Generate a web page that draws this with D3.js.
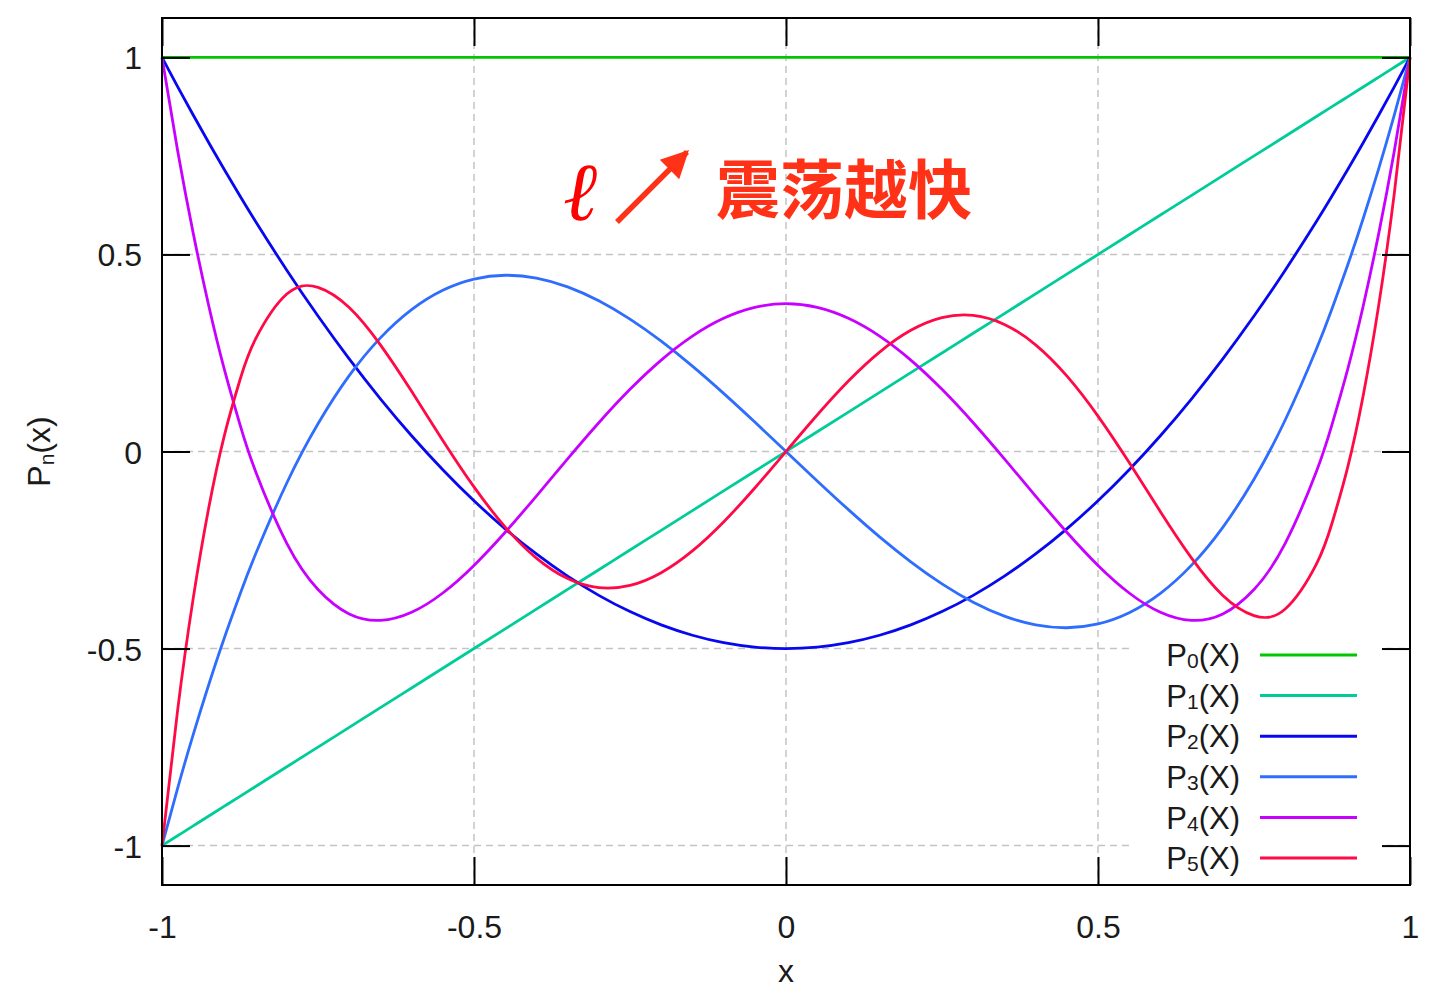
<!DOCTYPE html>
<html>
<head>
<meta charset="utf-8">
<script src="https://cdn.jsdelivr.net/npm/d3@7"></script>
<style>
  html, body { margin: 0; padding: 0; background: #fff; }
  svg { display: block; }
</style>
</head>
<body>
<svg id="chart" width="1434" height="993"></svg>
<script>
// Sample abscissae shared by the curves (finer near the steep ends)
const xs = [-1, -0.975, -0.95, -0.925, -0.9, -0.875, -0.85, -0.8, -0.75, -0.7, -0.65, -0.6, -0.55, -0.5,
  -0.45, -0.4, -0.35, -0.3, -0.25, -0.2, -0.15, -0.1, -0.05, 0,
  0.05, 0.1, 0.15, 0.2, 0.25, 0.3, 0.35, 0.4, 0.45, 0.5, 0.55, 0.6, 0.65, 0.7, 0.75, 0.8,
  0.85, 0.875, 0.9, 0.925, 0.95, 0.975, 1];

const p0 = [1, 1, 1, 1, 1, 1, 1, 1, 1, 1, 1, 1, 1, 1, 1, 1, 1, 1, 1, 1, 1, 1, 1, 1,
  1, 1, 1, 1, 1, 1, 1, 1, 1, 1, 1, 1, 1, 1, 1, 1, 1, 1, 1, 1, 1, 1, 1];

const p1 = [-1, -0.975, -0.95, -0.925, -0.9, -0.875, -0.85, -0.8, -0.75, -0.7, -0.65, -0.6, -0.55, -0.5,
  -0.45, -0.4, -0.35, -0.3, -0.25, -0.2, -0.15, -0.1, -0.05, 0,
  0.05, 0.1, 0.15, 0.2, 0.25, 0.3, 0.35, 0.4, 0.45, 0.5, 0.55, 0.6, 0.65, 0.7, 0.75, 0.8,
  0.85, 0.875, 0.9, 0.925, 0.95, 0.975, 1];

const p2 = [1, 0.92594, 0.85375, 0.78344, 0.715, 0.64844, 0.58375, 0.46, 0.34375, 0.235, 0.13375, 0.04, -0.04625, -0.125,
  -0.19625, -0.26, -0.31625, -0.365, -0.40625, -0.44, -0.46625, -0.485, -0.49625, -0.5,
  -0.49625, -0.485, -0.46625, -0.44, -0.40625, -0.365, -0.31625, -0.26, -0.19625, -0.125, -0.04625, 0.04, 0.13375, 0.235, 0.34375, 0.46,
  0.58375, 0.64844, 0.715, 0.78344, 0.85375, 0.92594, 1];

const p3 = [-1, -0.85465, -0.7184, -0.59113, -0.4725, -0.3623, -0.2603, -0.08, 0.0703, 0.1925, 0.2884, 0.36, 0.4091, 0.4375,
  0.4472, 0.44, 0.4178, 0.3825, 0.3359, 0.28, 0.2166, 0.1475, 0.0747, 0,
  -0.0747, -0.1475, -0.2166, -0.28, -0.3359, -0.3825, -0.4178, -0.44, -0.4472, -0.4375, -0.4091, -0.36, -0.2884, -0.1925, -0.0703, 0.08,
  0.2603, 0.3623, 0.4725, 0.59113, 0.7184, 0.85465, 1];

const p4 = [1, 0.76379, 0.55409, 0.36932, 0.20794, 0.06845, -0.0506, -0.233, -0.3501, -0.41206, -0.42841, -0.408, -0.35904, -0.28906,
  -0.20497, -0.113, -0.01872, 0.07294, 0.15771, 0.232, 0.29284, 0.33794, 0.36565, 0.375,
  0.36565, 0.33794, 0.29284, 0.232, 0.15771, 0.07294, -0.01872, -0.113, -0.20497, -0.28906, -0.35904, -0.408, -0.42841, -0.41206, -0.3501, -0.233,
  -0.0506, 0.06845, 0.20794, 0.36932, 0.55409, 0.76379, 1];

const p5 = [-1, -0.65674, -0.37274, -0.14201, 0.04114, 0.18203, 0.28567, 0.39952, 0.41638, 0.3652, 0.27049, 0.15264, 0.0282, -0.08984,
  -0.19172, -0.27064, -0.32245, -0.34539, -0.33972, -0.30752, -0.25232, -0.17883, -0.09266, 0,
  0.09266, 0.17883, 0.25232, 0.30752, 0.33972, 0.34539, 0.32245, 0.27064, 0.19172, 0.08984, -0.0282, -0.15264, -0.27049, -0.3652, -0.41638, -0.39952,
  -0.28567, -0.18203, -0.04114, 0.14201, 0.37274, 0.65674, 1];

const seriesNames = ["0", "1", "2", "3", "4", "5"];
const seriesValues = [p0, p1, p2, p3, p4, p5];
const seriesColors = ["#00c800", "#00cc99", "#0808f0", "#2f6dff", "#c800ff", "#ff0a46"];

const xTicks = [-1, -0.5, 0, 0.5, 1];
const yTicks = [-1, -0.5, 0, 0.5, 1];
const xTickLabels = ["-1", "-0.5", "0", "0.5", "1"];
const yTickLabels = ["-1", "-0.5", "0", "0.5", "1"];

const svg = d3.select("#chart");
const plotL = 162, plotR = 1410, plotT = 18, plotB = 885;
const font = "'Liberation Sans', Arial, sans-serif";
const textColor = "#1a1a1a";

const x = d3.scaleLinear().domain([-1, 1]).range([plotL, plotR]);
const y = d3.scaleLinear().domain([-1.1, 1.1]).range([plotB, plotT]);

// Dashed grid
const grid = svg.append("g").attr("stroke", "#c4c4c4").attr("stroke-width", 1.5)
  .attr("stroke-dasharray", "7,5").attr("fill", "none");
grid.selectAll(".gx").data(xTicks.slice(1, -1)).join("line")
  .attr("x1", d => x(d)).attr("x2", d => x(d)).attr("y1", plotT).attr("y2", plotB);
grid.selectAll(".gy").data(yTicks).join("line")
  .attr("x1", plotL).attr("x2", plotR).attr("y1", d => y(d)).attr("y2", d => y(d));

// Curves
const line = d3.line().x(d => x(d[0])).y(d => y(d[1])).curve(d3.curveNatural);
const curves = svg.append("g").attr("fill", "none").attr("stroke-width", 2.8)
  .attr("stroke-linejoin", "round");
seriesValues.forEach((vals, i) => {
  curves.append("path")
    .datum(xs.map((v, k) => [v, vals[k]]))
    .attr("stroke", seriesColors[i])
    .attr("d", line);
});

// Legend key (blank box behind entries)
const legendX = 1240, legendLine0 = 1260, legendLine1 = 1357, legendY0 = 655, legendDy = 40.6;
svg.append("rect").attr("x", 1132).attr("y", 634).attr("width", 250).attr("height", 244)
  .attr("fill", "#fff");
const legend = svg.append("g");
seriesNames.forEach((n, i) => {
  const yy = legendY0 + i * legendDy;
  const t = legend.append("text")
    .attr("x", legendX).attr("y", yy).attr("dy", "0.36em")
    .attr("text-anchor", "end")
    .attr("font-family", font).attr("font-size", 31).attr("fill", textColor);
  t.append("tspan").text("P");
  t.append("tspan").attr("font-size", 21).attr("dy", 2).text(n);
  t.append("tspan").attr("dy", -2).text("(X)");
  legend.append("line")
    .attr("x1", legendLine0).attr("x2", legendLine1).attr("y1", yy).attr("y2", yy)
    .attr("stroke", seriesColors[i]).attr("stroke-width", 3);
});

// Axes: inward ticks on all four sides, mirrored
const axes = svg.append("g");
const gBottom = axes.append("g").attr("transform", `translate(0,${plotB})`)
  .call(d3.axisBottom(x).tickValues(xTicks).tickSize(-28).tickFormat((d, i) => xTickLabels[i]));
axes.append("g").attr("transform", `translate(0,${plotT})`)
  .call(d3.axisTop(x).tickValues(xTicks).tickSize(-28).tickFormat(""));
const gLeft = axes.append("g").attr("transform", `translate(${plotL},0)`)
  .call(d3.axisLeft(y).tickValues(yTicks).tickSize(-28).tickFormat((d, i) => yTickLabels[i]));
axes.append("g").attr("transform", `translate(${plotR},0)`)
  .call(d3.axisRight(y).tickValues(yTicks).tickSize(-28).tickFormat(""));
axes.selectAll(".domain").remove();
axes.selectAll(".tick line").attr("stroke", "#000").attr("stroke-width", 2);
axes.selectAll(".tick text").attr("font-family", font).attr("font-size", 32).attr("fill", textColor);
gBottom.selectAll(".tick text").attr("y", 53).attr("dy", 0);
gLeft.selectAll(".tick text").attr("x", -20).attr("dy", "0.36em");

// Frame
svg.append("rect").attr("x", plotL).attr("y", plotT)
  .attr("width", plotR - plotL).attr("height", plotB - plotT)
  .attr("fill", "none").attr("stroke", "#000").attr("stroke-width", 2);

// Axis titles
svg.append("text").attr("x", (plotL + plotR) / 2).attr("y", 982)
  .attr("text-anchor", "middle").attr("font-family", font).attr("font-size", 32)
  .attr("fill", textColor).text("x");
const yt = svg.append("text")
  .attr("transform", `translate(38,${y(0)}) rotate(-90)`)
  .attr("text-anchor", "middle").attr("dy", "0.36em")
  .attr("font-family", font).attr("font-size", 32).attr("fill", textColor);
yt.append("tspan").text("P");
yt.append("tspan").attr("font-size", 21).attr("dy", 4).text("n");
yt.append("tspan").attr("dy", -4).text("(x)");

// Annotation: ℓ ↗ 震荡越快
const annColor = "#ff3218";
svg.append("text").attr("x", 563).attr("y", 220)
  .attr("font-family", "'DejaVu Serif', serif").attr("font-style", "italic")
  .attr("font-size", 82).attr("fill", "#ff0000").text("ℓ");
svg.append("defs").append("marker")
  .attr("id", "head").attr("viewBox", "0 0 10 10").attr("refX", 9).attr("refY", 5)
  .attr("markerWidth", 6).attr("markerHeight", 5).attr("markerUnits", "strokeWidth")
  .attr("orient", "auto")
  .append("path").attr("d", "M0,0 L10,5 L0,10 Z").attr("fill", annColor);
svg.append("line").attr("x1", 617).attr("y1", 222).attr("x2", 687).attr("y2", 152)
  .attr("stroke", annColor).attr("stroke-width", 5.5).attr("marker-end", "url(#head)");
svg.append("text").attr("x", 716).attr("y", 190).attr("dy", "0.36em")
  .attr("font-family", "'Noto Sans CJK SC', sans-serif").attr("font-weight", 700)
  .attr("font-size", 64).attr("fill", annColor).text("震荡越快");
</script>
</body>
</html>
